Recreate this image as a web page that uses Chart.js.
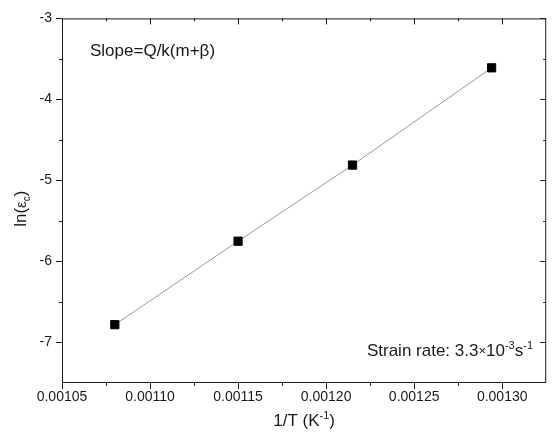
<!DOCTYPE html>
<html>
<head>
<meta charset="utf-8">
<script src="https://cdn.jsdelivr.net/npm/chart.js@4/dist/chart.umd.min.js"></script>
<style>
  html, body { margin: 0; padding: 0; background: #fff; }
  #wrap { width: 553px; height: 432px; }
</style>
</head>
<body>
<div id="wrap"><canvas id="chart" width="553" height="432"></canvas></div>
<script>
// Arrhenius-type plot: ln(critical strain) against 1/T
const INV_T = [0.00108, 0.00115, 0.001215, 0.001294];
const LN_EPS = [-6.78, -5.75, -4.81, -3.61];

const X_TICKS = [0.00105, 0.00110, 0.00115, 0.00120, 0.00125, 0.00130];
const Y_TICKS = [-3, -4, -5, -6, -7];
const X_RANGE = [0.00105, 0.001325];
const Y_RANGE = [-7.5, -3];

const FONT = '"Liberation Sans", Arial, sans-serif';
const INK = "#1a1a1a";

// midpoints between majors -> minor ticks (Origin style)
function minors(majors, lo, hi) {
  const out = [];
  const s = [...majors].sort((a, b) => a - b);
  const step = s[1] - s[0];
  for (let v = s[0] - step / 2; v < hi + 1e-12; v += step) {
    if (v > lo + 1e-12 && v < hi - 1e-12) out.push(v);
  }
  return out;
}

// draw text runs with sizes / baseline shifts, left to right
function richWidth(ctx, parts) {
  let w = 0;
  parts.forEach(([t, size]) => {
    ctx.font = `${size}px ${FONT}`;
    w += ctx.measureText(t).width;
  });
  return w;
}
function drawRich(ctx, parts, x, y) {
  let cx = x;
  parts.forEach(([t, size, dy]) => {
    ctx.font = `${size}px ${FONT}`;
    ctx.fillText(t, cx, y + (dy || 0));
    cx += ctx.measureText(t).width;
  });
}

const frame = {
  id: "frame",
  afterDraw(chart) {
    const { ctx, chartArea: a, scales } = chart;
    const xs = scales.x, ys = scales.y;
    ctx.save();
    ctx.strokeStyle = INK;
    ctx.lineWidth = 1;
    ctx.strokeRect(a.left + 0.5, a.top + 0.5, a.right - a.left - 1, a.bottom - a.top - 1);

    ctx.beginPath();
    const tickX = (v, len) => {
      const px = Math.round(xs.getPixelForValue(v)) + 0.5;
      ctx.moveTo(px, a.bottom); ctx.lineTo(px, a.bottom + len);   // bottom: outward
      ctx.moveTo(px, a.top); ctx.lineTo(px, a.top + len);         // top: inward
    };
    const tickY = (v, len) => {
      const py = Math.round(ys.getPixelForValue(v)) + 0.5;
      ctx.moveTo(a.left, py); ctx.lineTo(a.left - len, py);       // left: outward
      ctx.moveTo(a.right, py); ctx.lineTo(a.right - len, py);     // right: inward
    };
    X_TICKS.forEach((v) => tickX(v, 6));
    minors(X_TICKS, X_RANGE[0], X_RANGE[1]).forEach((v) => tickX(v, 3));
    Y_TICKS.forEach((v) => tickY(v, 6));
    minors(Y_TICKS, Y_RANGE[0], Y_RANGE[1]).forEach((v) => tickY(v, 3));
    ctx.stroke();

    ctx.fillStyle = INK;
    ctx.textBaseline = "alphabetic";
    ctx.textAlign = "left";

    // in-plot notes
    drawRich(ctx, [["Slope=Q/k(m+\u03b2)", 17]], 90, 56);
    const strain = [
      ["Strain rate: 3.3", 17], ["\u00d7", 13, -1], ["10", 17],
      ["-3", 11, -7], ["s", 17], ["-1", 11, -7],
    ];
    drawRich(ctx, strain, 533 - richWidth(ctx, strain), 356);

    // x title
    const xt = [["1/T (K", 17], ["-1", 11, -7], [")", 17]];
    drawRich(ctx, xt, (a.left + a.right) / 2 - richWidth(ctx, xt) / 2, 426);

    // y title, rotated
    const yt = [["ln(", 17], ["\u03b5", 15], ["c", 10, 4], [")", 17]];
    ctx.translate(26, (a.top + a.bottom) / 2 + 8);
    ctx.rotate(-Math.PI / 2);
    drawRich(ctx, yt, -richWidth(ctx, yt) / 2, 0);
    ctx.restore();
  },
};

new Chart(document.getElementById("chart"), {
  type: "scatter",
  data: {
    datasets: [{
      data: INV_T.map((x, i) => ({ x, y: LN_EPS[i] })),
      showLine: true,
      borderColor: "#999999",
      borderWidth: 1,
      pointStyle: "rect",
      pointRadius: 5.8,
      pointBackgroundColor: "#000",
      pointBorderColor: "#000",
      pointBorderWidth: 1,
    }],
  },
  options: {
    responsive: false,
    animation: false,
    layout: { padding: { left: 0, right: 2, top: 15, bottom: 0 } },
    plugins: { legend: { display: false }, tooltip: { enabled: false } },
    scales: {
      x: {
        type: "linear",
        min: X_RANGE[0],
        max: X_RANGE[1],
        afterFit: (s) => { s.height = 49; },
        afterBuildTicks: (s) => { s.ticks = X_TICKS.map((value) => ({ value })); },
        grid: { display: false, drawTicks: false },
        border: { display: false },
        ticks: {
          padding: 6,
          autoSkip: false,
          maxRotation: 0,
          color: INK,
          font: { family: FONT, size: 14 },
          callback: (v) => v.toFixed(5),
        },
      },
      y: {
        min: Y_RANGE[0],
        max: Y_RANGE[1],
        afterFit: (s) => { s.width = 62; },
        afterBuildTicks: (s) => { s.ticks = Y_TICKS.map((value) => ({ value })); },
        grid: { display: false, drawTicks: false },
        border: { display: false },
        ticks: {
          padding: 10,
          color: INK,
          font: { family: FONT, size: 14 },
          callback: (v) => String(v),
        },
      },
    },
  },
  plugins: [frame],
});
</script>
</body>
</html>
